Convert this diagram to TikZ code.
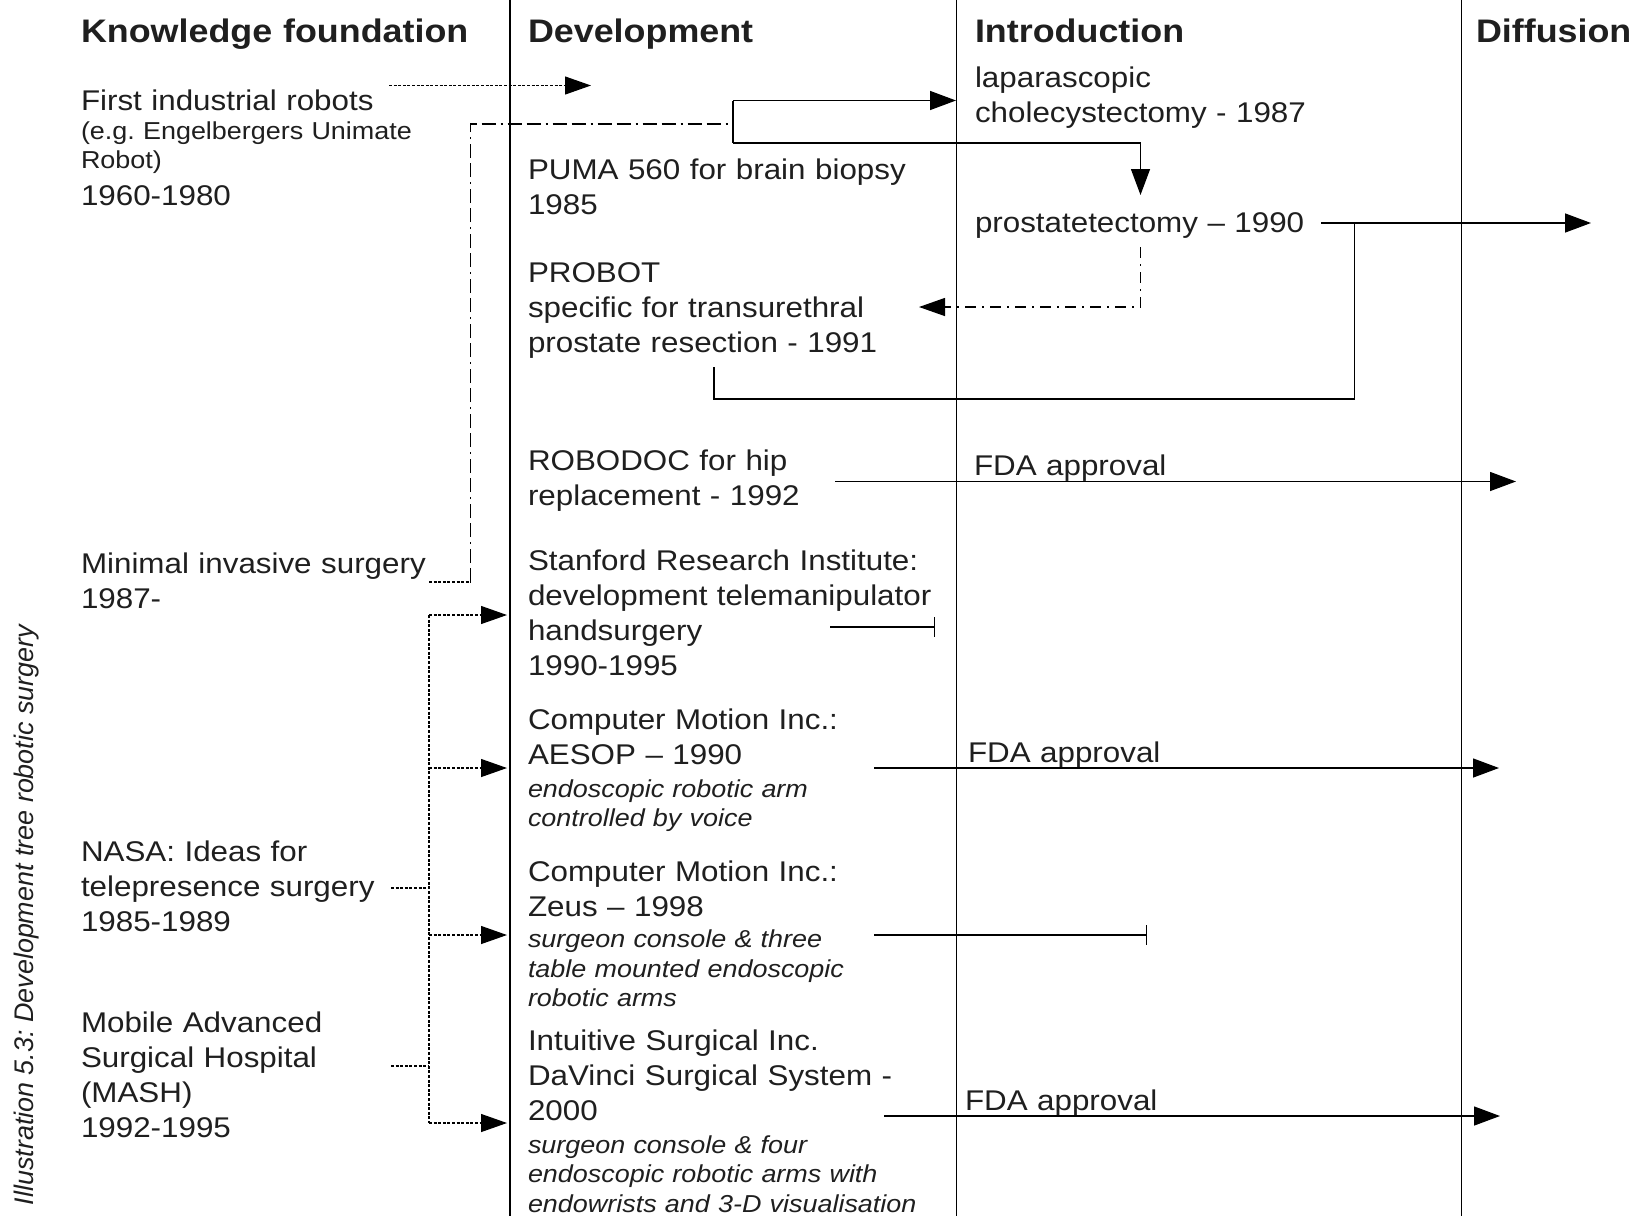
\documentclass[tikz,border=0pt]{standalone}
\usepackage{fontspec}
\setmainfont{Liberation Sans}[FakeStretch=1.1]
\newfontfamily\capfont{Liberation Sans}
\usetikzlibrary{arrows.meta}
\frenchspacing
\tikzset{
  txt/.style={anchor=base west, inner sep=0pt, outer sep=0pt, text width=600pt, align=left, text=black!88},
  body/.style={txt, font=\fontsize{28.5}{35}\selectfont},
  head/.style={txt, font=\fontsize{32.6}{38}\selectfont\bfseries},
  small/.style={txt, font=\fontsize{24.5}{29}\selectfont},
  ital/.style={txt, font=\fontsize{24.5}{29.5}\selectfont\itshape},
  colline/.style={line width=1.2pt},
  conn/.style={line width=1.4pt},
  tipA/.style={-{Triangle[length=26pt,width=19pt]}},
  tipB/.style={-{Triangle[length=26pt,width=18pt]}},
  barend/.style={-{Bar[width=20pt]}},
  dens/.style={line width=1.2pt, dash pattern=on 3pt off 1.6pt},
  dashdotA/.style={line width=1.3pt, dash pattern=on 14pt off 5pt on 14pt off 5pt on 2pt off 5pt},
  dashdotB/.style={line width=1.3pt, dash pattern=on 11pt off 6pt on 2pt off 6pt},
}
\begin{document}
\begin{tikzpicture}[x=1pt,y=-1pt]
\useasboundingbox (0,0) rectangle (1638,1216);
\fill[white] (0,0) rectangle (1638,1216);

% column lines
\draw[colline] (510,0) -- (510,1216);
\draw[colline] (956.5,0) -- (956.5,1216);
\draw[colline] (1461.5,0) -- (1461.5,1216);

% caption
\node[rotate=90, anchor=base, inner sep=0pt, font=\capfont\itshape\fontsize{26.9}{30}\selectfont, text=black!88] (cap) at (33,915) {Illustration 5.3: Development tree robotic surgery};

% headers
\node[head] (hKF) at (81,42) {Knowledge foundation};
\node[head] (hDev) at (528,42) {Development};
\node[head] (hInt) at (975,42) {Introduction};
\node[head] (hDif) at (1476,42) {Diffusion};

% knowledge foundation
\node[body] (fir) at (81,110) {First industrial robots};
\node[small] (firS) at (81,139) {(e.g. Engelbergers Unimate\\Robot)};
\node[body] (firY) at (81,205) {1960-1980};
\node[body] (mis) at (81,573) {Minimal invasive surgery\\1987-};
\node[body] (nasa) at (81,861.5) {NASA: Ideas for\\telepresence surgery\\1985-1989};
\node[body] (mash) at (81,1032) {Mobile Advanced\\Surgical Hospital\\(MASH)\\1992-1995};

% development
\node[body] (puma) at (528,179.5) {PUMA 560 for brain biopsy\\1985};
\node[body] (probot) at (528,282) {PROBOT\\specific for transurethral\\prostate resection - 1991};
\node[body] (robodoc) at (528,470) {ROBODOC for hip\\replacement - 1992};
\node[body] (sri) at (528,570.5) {Stanford Research Institute:\\development telemanipulator\\handsurgery\\1990-1995};
\node[body] (aesop) at (528,729.5) {Computer Motion Inc.:\\AESOP – 1990};
\node[ital] (aesopI) at (528,797) {endoscopic robotic arm\\controlled by voice};
\node[body] (zeus) at (528,881) {Computer Motion Inc.:\\Zeus – 1998};
\node[ital] (zeusI) at (528,947.5) {surgeon console \& three\\table mounted endoscopic\\robotic arms};
\node[body] (davinci) at (528,1050) {Intuitive Surgical Inc.\\DaVinci Surgical System -\\2000};
\node[ital] (davinciI) at (528,1153) {surgeon console \& four\\endoscopic robotic arms with\\endowrists and 3-D visualisation};

% introduction
\node[body] (lap) at (975,87.5) {laparascopic\\cholecystectomy - 1987};
\node[body] (prost) at (975,232.5) {prostatetectomy – 1990};
\node[body] (fda1) at (974,475) {FDA approval};
\node[body] (fda2) at (968,762) {FDA approval};
\node[body] (fda3) at (965,1110) {FDA approval};

% coordinates
\coordinate (firOut) at (389,85.5);
\coordinate (firIn) at (591,85.5);
\coordinate (misOut) at (429,582);
\coordinate (misC1) at (470.5,582);
\coordinate (misC2) at (470.5,124);
\coordinate (jMid) at (733,124);
\coordinate (jTop) at (733,100.5);
\coordinate (jBot) at (733,143);
\coordinate (lapIn) at (956,100.5);
\coordinate (prostIn) at (1140.5,195);
\coordinate (prostOut) at (1321,223);
\coordinate (prostDif) at (1591,223);
\coordinate (probotOut) at (714,367);
\coordinate (probotBot) at (1354.5,399);
\coordinate (probotJ) at (1354.5,223);
\coordinate (prostDown) at (1140.5,247);
\coordinate (probotIn) at (919,307);
\coordinate (roboOut) at (835,481.5);
\coordinate (roboDif) at (1516,481.5);
\coordinate (sriOut) at (830,627);
\coordinate (sriEnd) at (935,627);
\coordinate (aesOut) at (874,768);
\coordinate (aesDif) at (1499,768);
\coordinate (zeusOut) at (874,935);
\coordinate (zeusEnd) at (1147,935);
\coordinate (davOut) at (884,1116);
\coordinate (davDif) at (1500,1116);
\coordinate (bus1) at (429,615);
\coordinate (bus2) at (429,768);
\coordinate (bus3) at (429,935);
\coordinate (bus4) at (429,1123);
\coordinate (sriIn) at (507,615);
\coordinate (aesIn) at (507,768);
\coordinate (zeusIn) at (507,935);
\coordinate (davIn) at (507,1123);
\coordinate (nasaOut) at (391,888);
\coordinate (nasaJ) at (429,888);
\coordinate (mashOut) at (391,1066);
\coordinate (mashJ) at (429,1066);

% connectors
\draw[dens, tipB] (firOut) -- (firIn);
\draw[dens] (misOut) -- (misC1);
\draw[dashdotA] (misC1) -- (misC2) -- (jMid);
\draw[conn] (jTop) -- (jBot);
\draw[conn, tipA] (jTop) -- (lapIn);
\draw[conn, tipA] (jBot) -| (prostIn);
\draw[conn, tipA] (prostOut) -- (prostDif);
\draw[conn] (probotOut) |- (probotBot) -- (probotJ);
\draw[dashdotB, tipB] (prostDown) |- (probotIn);
\draw[conn, tipA] (roboOut) -- (roboDif);
\draw[conn, barend] (sriOut) -- (sriEnd);
\draw[conn, tipA] (aesOut) -- (aesDif);
\draw[conn, barend] (zeusOut) -- (zeusEnd);
\draw[conn, tipA] (davOut) -- (davDif);

\draw[dens] (bus1) -- (bus4);
\draw[dens, tipB] (bus1) -- (sriIn);
\draw[dens, tipB] (bus2) -- (aesIn);
\draw[dens, tipB] (bus3) -- (zeusIn);
\draw[dens, tipB] (bus4) -- (davIn);
\draw[dens] (nasaOut) -- (nasaJ);
\draw[dens] (mashOut) -- (mashJ);
\end{tikzpicture}
\end{document}
